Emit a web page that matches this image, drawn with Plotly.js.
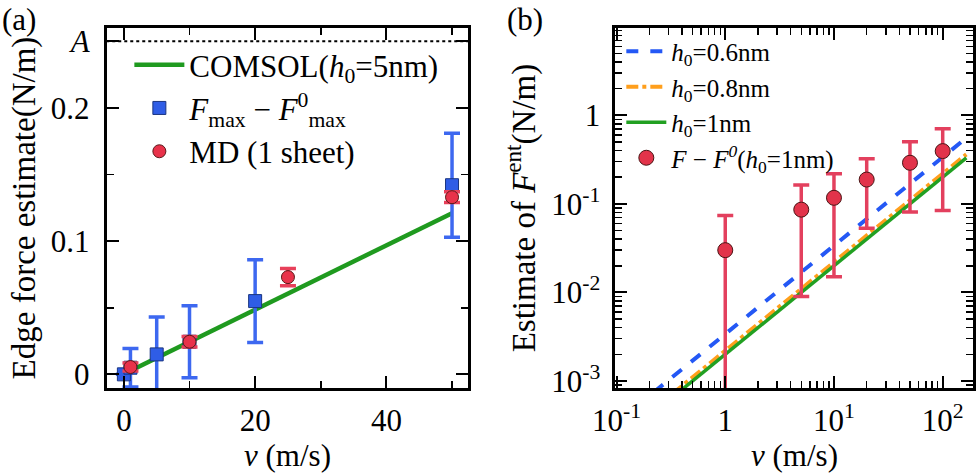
<!DOCTYPE html>
<html><head><meta charset="utf-8">
<script src="https://cdn.plot.ly/plotly-3.0.1.min.js"></script>
<style>html,body{margin:0;padding:0;background:#fff;}#c{width:980px;height:475px;}</style>
</head><body><div id="c"></div>
<script>
// Panel (a)
const comsolV = [0, 50];
const comsolF = [0.0002, 0.121];
const fmaxV = [0, 1, 5, 10, 20, 50];
const fmaxF = [0.0, 0.005, 0.015, 0.0245, 0.055, 0.142];
const fmaxErr = [0, 0.0145, 0.028, 0.027, 0.031, 0.039];
const mdV = [1, 10, 25, 50];
const mdF = [0.0055, 0.0245, 0.073, 0.133];
const mdErr = [0.003, 0.004, 0.0065, 0.004];
const aLevel = 0.25;
const aTickVals = [0, 0.1, 0.2, 0.25];
const aTickText = ['0', '0.1', '0.2', '<i>A</i>'];
// Panel (b)
const lineV = [0.1, 1, 10, 100, 165];
const h06F = [0.00034, 0.0034, 0.034, 0.34, 0.555];
const h08F = [0.00022, 0.0022, 0.022, 0.22, 0.362];
const h10F = [0.0002, 0.002, 0.02, 0.2, 0.33];
const entV = [1, 5, 10, 20, 50, 100];
const entF = [0.030, 0.086, 0.117, 0.188, 0.291, 0.394];
const entErr = [0.044, 0.077, 0.102, 0.135, 0.21, 0.31];
const bxTickVals = [0.1, 1, 10, 100];
const bxTickText = ['10<sup>-1</sup>', '1', '10<sup>1</sup>', '10<sup>2</sup>'];
const byTickVals = [0.001, 0.01, 0.1, 1];
const byTickText = ['10<sup>-3</sup>', '10<sup>-2</sup>', '10<sup>-1</sup>', '1'];

const FONT = "'Liberation Serif', 'DejaVu Serif', serif";
const traces = [
  {x: [-10, 60], y: [aLevel, aLevel], mode: 'lines', line: {color: 'black', width: 2, dash: 'dot'},
   showlegend: false, xaxis: 'x', yaxis: 'y', hoverinfo: 'skip'},
  {x: comsolV, y: comsolF, mode: 'lines', line: {color: '#1f9a1f', width: 4.5},
   name: 'COMSOL(<i>h</i><sub>0</sub>=5nm)', xaxis: 'x', yaxis: 'y', legend: 'legend'},
  {x: fmaxV, y: fmaxF, mode: 'markers', name: '<i>F</i><sub>max</sub> − <i>F</i><sup>0</sup><sub>max</sub>',
   marker: {symbol: 'square', size: 13, color: '#2f5de6', line: {color: '#1a3580', width: 1}},
   error_y: {type: 'data', array: fmaxErr, visible: true, color: '#3d68f0', thickness: 3.5, width: 8},
   xaxis: 'x', yaxis: 'y', legend: 'legend'},
  {x: mdV, y: mdF, mode: 'markers', name: 'MD (1 sheet)',
   marker: {symbol: 'circle', size: 13, color: '#e8324a', line: {color: '#5a1a1a', width: 1}},
   error_y: {type: 'data', array: mdErr, visible: true, color: '#e8405a', thickness: 3.5, width: 8},
   xaxis: 'x', yaxis: 'y', legend: 'legend'},
  {x: lineV, y: h06F, mode: 'lines', name: '<i>h</i><sub>0</sub>=0.6nm',
   line: {color: '#2458f5', width: 4, dash: 'dash'}, xaxis: 'x2', yaxis: 'y2', legend: 'legend2'},
  {x: lineV, y: h08F, mode: 'lines', name: '<i>h</i><sub>0</sub>=0.8nm',
   line: {color: '#ff9f1c', width: 4, dash: 'dashdot'}, xaxis: 'x2', yaxis: 'y2', legend: 'legend2'},
  {x: lineV, y: h10F, mode: 'lines', name: '<i>h</i><sub>0</sub>=1nm',
   line: {color: '#22a022', width: 3.5}, xaxis: 'x2', yaxis: 'y2', legend: 'legend2'},
  {x: entV, y: entF, mode: 'markers', name: '<i>F</i> − <i>F</i><sup><i>0</i></sup>(<i>h</i><sub>0</sub>=1nm)',
   marker: {symbol: 'circle', size: 15, color: '#e2334a', line: {color: '#4a1515', width: 1}},
   error_y: {type: 'data', array: entErr, visible: true, color: '#e3405e', thickness: 3.5, width: 8},
   xaxis: 'x2', yaxis: 'y2', legend: 'legend2'}
];

const axBase = {
  showline: true, linecolor: 'black', linewidth: 3, mirror: 'allticks',
  ticks: 'inside', ticklen: 12, tickwidth: 2, tickcolor: 'black',
  showgrid: false, zeroline: false, tickfont: {family: FONT, size: 31, color: 'black'},
  minor: {ticks: 'inside', ticklen: 7, tickwidth: 1.5, tickcolor: 'black', showgrid: false}
};
function ax(extra) {
  const o = JSON.parse(JSON.stringify(axBase));
  for (const k in extra) {
    if (k === 'minor') Object.assign(o.minor, extra.minor); else o[k] = extra[k];
  }
  return o;
}
const titleFont = {family: FONT, size: 33, color: 'black'};
const xTitleFont = {family: FONT, size: 31, color: 'black'};
const layout = {
  width: 980, height: 475, margin: {l: 0, r: 0, t: 0, b: 0},
  paper_bgcolor: 'white', plot_bgcolor: 'white', showlegend: true,
  xaxis: ax({domain: [0.109, 0.478], range: [-2.6, 52.5], tickmode: 'array', tickvals: [0, 20, 40],
    minor: {dtick: 10, tick0: 0}, anchor: 'y', ticklabelstandoff: 3}),
  yaxis: ax({domain: [0.183, 0.941], range: [-0.0103, 0.26], tickmode: 'array', tickvals: aTickVals,
    ticktext: aTickText, minor: {dtick: 0.05, tick0: 0}, anchor: 'x', ticklabelstandoff: 8,
    title: {text: 'Edge force estimate(N/m)', font: titleFont, standoff: 6}}),
  xaxis2: ax({domain: [0.628, 0.993], type: 'log', range: [-1.01, 2.28], tickmode: 'array',
    tickvals: bxTickVals, ticktext: bxTickText, minor: {dtick: 'D1'}, anchor: 'y2', ticklabelstandoff: 3}),
  yaxis2: ax({domain: [0.183, 0.941], type: 'log', range: [-3.08, 0.985], tickmode: 'array',
    tickvals: byTickVals, ticktext: byTickText, minor: {dtick: 'D1'}, anchor: 'x2', ticklabelstandoff: 6,
    title: {text: 'Estimate of <i>F</i><sup>ent</sup>(N/m)', font: titleFont, standoff: 6}}),
  legend: {x: 0.132, y: 0.92, xanchor: 'left', yanchor: 'top', bgcolor: 'rgba(0,0,0,0)',
    font: {family: FONT, size: 31, color: 'black'}, tracegroupgap: 8, itemwidth: 50},
  legend2: {x: 0.634, y: 0.94, xanchor: 'left', yanchor: 'top', bgcolor: 'rgba(0,0,0,0)',
    font: {family: FONT, size: 25, color: 'black'}, itemwidth: 40},
  annotations: [
    {text: '(a)', x: 0.0, y: 1.0, xref: 'paper', yref: 'paper', xanchor: 'left', yanchor: 'top',
     showarrow: false, font: {family: FONT, size: 31, color: 'black'}},
    {text: '(b)', x: 0.515, y: 1.0, xref: 'paper', yref: 'paper', xanchor: 'left', yanchor: 'top',
     showarrow: false, font: {family: FONT, size: 31, color: 'black'}},
    {text: '<i>v</i> (m/s)', x: 0.2935, y: 0.0, xref: 'paper', yref: 'paper', xanchor: 'center',
     yanchor: 'bottom', showarrow: false, font: xTitleFont},
    {text: '<i>ν</i> (m/s)', x: 0.8105, y: 0.0, xref: 'paper', yref: 'paper', xanchor: 'center',
     yanchor: 'bottom', showarrow: false, font: xTitleFont}
  ]
};
Plotly.newPlot('c', traces, layout, {staticPlot: true, displayModeBar: false});
</script></body></html>
